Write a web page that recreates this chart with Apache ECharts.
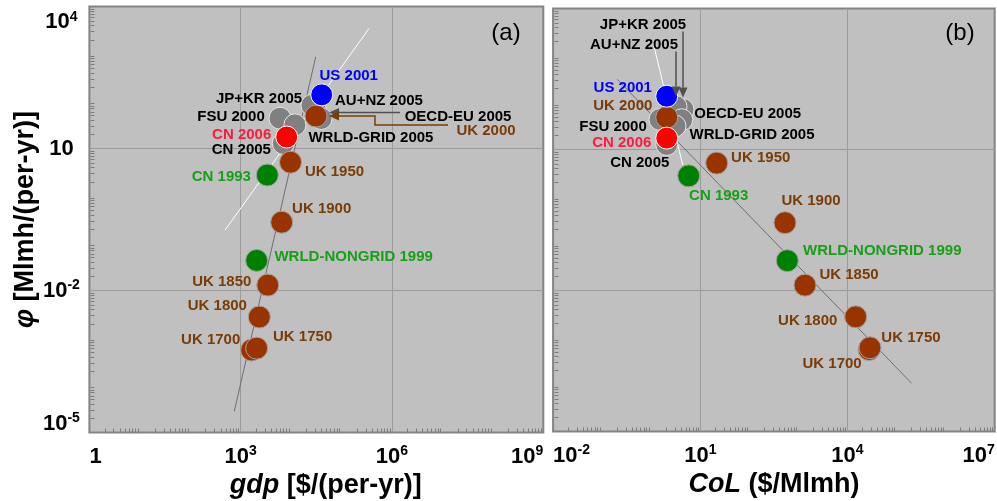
<!DOCTYPE html>
<html>
<head>
<meta charset="utf-8">
<script src="https://cdn.jsdelivr.net/npm/echarts@6/dist/echarts.min.js"></script>
<style>
  html, body { margin: 0; padding: 0; background: #ffffff; }
  #chart { width: 997px; height: 501px; }
</style>
</head>
<body>
<div id="chart"></div>
<script>
// ---- Observations: region/year, per-capita GDP, per-capita light use, cost of light ----
const names = ['CN 2005', 'JP+KR 2005', 'AU+NZ 2005', 'OECD-EU 2005', 'FSU 2000', 'WRLD-GRID 2005',
  'UK 1700', 'UK 1750', 'UK 1800', 'UK 1850', 'UK 1900', 'UK 1950', 'UK 2000',
  'WRLD-NONGRID 1999', 'CN 1993', 'CN 2006', 'US 2001'];
const groups = ['grid', 'grid', 'grid', 'grid', 'grid', 'grid',
  'uk', 'uk', 'uk', 'uk', 'uk', 'uk', 'uk',
  'green', 'green', 'red', 'blue'];
// gdp [$/(per-yr)]
const gdp = [7000, 29800, 25900, 39200, 6010, 11900,
  1650, 2070, 2340, 3440, 6500, 9730, 31100,
  2070, 3370, 8170, 40400];
// phi [Mlmh/(per-yr)]
const phi = [12.8, 70.8, 81.8, 43, 43.6, 31.6,
  5.53e-4, 6.05e-4, 2.75e-3, 0.013, 0.277, 5.13, 48.4,
  0.0432, 2.75, 17.5, 136];
// CoL [$/Mlmh]
const col = [2.07, 4.44, 3.2, 4.18, 1.51, 3.05,
  27500, 28700, 14700, 1360, 532, 21.6, 2.07,
  593, 5.8, 2.07, 2.07];

// ---- Guide lines ----
const whiteLineGdp = [489, 350000];
const whiteLinePhi = [0.188, 3430];
const grayLineGdp = [746, 30700];
const grayLinePhi = [2.81e-5, 861];
const grayLineCol = [0.203, 203000];
const grayLineColPhi = [312, 1.06e-4];
const whiteLineCol = [1.10, 4.38];
const whiteLineColPhi = [1820, 4.68];

// ---- Axis tick labels ----
const gdpTicks = [1, 1e3, 1e6, 1e9];
const colTicks = [1e-2, 1e1, 1e4, 1e7];
const phiTicks = [1e-5, 1e-2, 1e1, 1e4];

// ---- Layout: label offsets (px from marker centre) ----
const labelOffsetA = {
  'US 2001': [27, -19], 'JP+KR 2005': [-56, -9], 'AU+NZ 2005': [67, -4],
  'OECD-EU 2005': [137, -2], 'UK 2000': [170, 15], 'FSU 2000': [-49, -1],
  'WRLD-GRID 2005': [76, 13], 'CN 2006': [-45, -2], 'CN 2005': [-42, 6],
  'UK 1950': [44, 10], 'CN 1993': [-46, 2], 'UK 1900': [40, -13],
  'WRLD-NONGRID 1999': [97, -4], 'UK 1850': [-46, -3], 'UK 1800': [-42, -11],
  'UK 1750': [46, -11], 'UK 1700': [-41, -10]
};
const labelOffsetB = {
  'US 2001': [-44, -8], 'UK 2000': [-44, -11], 'CN 2006': [-45, 5],
  'FSU 2000': [-47, 7], 'CN 2005': [-27, 18], 'JP+KR 2005': [-40, -85],
  'AU+NZ 2005': [-42, -62], 'OECD-EU 2005': [66, -6], 'WRLD-GRID 2005': [77, 9],
  'UK 1950': [44, -5], 'CN 1993': [30, 20], 'UK 1900': [26, -22],
  'WRLD-NONGRID 1999': [95, -10], 'UK 1850': [44, -10], 'UK 1800': [-48, 4],
  'UK 1750': [41, -10], 'UK 1700': [-37, 14]
};
// Leader arrows: path in px relative to the target marker, last point is the tip
const arrowsA = [
  { target: 'OECD-EU 2005', color: '#505050', path: [[79, -6], [8, -6]] },
  { target: 'UK 2000', color: '#7a3c06', path: [[132, 9], [59, 9], [59, 0], [13, 0]] }
];
const arrowsB = [
  { target: 'JP+KR 2005', color: '#505050', path: [[0, -78], [0, -12]] },
  { target: 'AU+NZ 2005', color: '#505050', path: [[0, -55], [0, -10]] }
];

const FONT = '"Liberation Sans", Arial, Helvetica, sans-serif';
const GROUP_STYLE = {
  grid:  { fill: '#808080', border: '#e6e6e6', text: '#000000' },
  uk:    { fill: '#993300', border: '#a3a3a3', text: '#7a3c06' },
  green: { fill: '#008000', border: '#a3a3a3', text: '#17a017' },
  red:   { fill: '#ff0000', border: '#ffffff', text: '#ff1a3c' },
  blue:  { fill: '#0000ff', border: '#ffffff', text: '#0000ff' }
};
const GROUP_ORDER = ['grid', 'uk', 'green', 'red', 'blue'];

function powerLabel(v, plainTen) {
  const e = Math.round(Math.log10(v));
  if (e === 0) return '{b|1}';
  if (e === 1 && plainTen) return '{b|10}';
  return '{b|10}{s|' + e + '}';
}
// phi labels: the end labels are pulled inside the axis span
function phiLabel(v) {
  const e = Math.round(Math.log10(v));
  const core = powerLabel(v, true);
  if (e === -5) return core + '\n{gapLo| }';
  if (e === 4) return '{gapHi| }\n' + core;
  return core;
}
const tickRich = {
  b: { fontSize: 22, fontWeight: 'bold', fontFamily: FONT, color: '#000', lineHeight: 24 },
  s: { fontSize: 14, fontWeight: 'bold', fontFamily: FONT, color: '#000', lineHeight: 14, verticalAlign: 'top' },
  gapLo: { fontSize: 1, lineHeight: 18 },
  gapHi: { fontSize: 1, lineHeight: 31 }
};
const titleStyle = (pad) => ({
  fontSize: 27, fontWeight: 'bold', fontFamily: FONT, color: '#000', padding: pad,
  rich: { i: { fontSize: 27, fontWeight: 'bold', fontStyle: 'italic', fontFamily: FONT, color: '#000' } }
});
const splitStyle = { show: true, lineStyle: { color: '#9b9b9b', width: 1 } };

function pointSeries(idx, xs, offsets) {
  return GROUP_ORDER.map(g => ({
    type: 'scatter', xAxisIndex: idx, yAxisIndex: idx, z: 5,
    symbol: 'circle', symbolSize: 22, silent: true,
    itemStyle: { color: GROUP_STYLE[g].fill, borderColor: GROUP_STYLE[g].border, borderWidth: 1, opacity: 1 },
    label: {
      show: true, position: 'inside', formatter: p => p.name,
      color: GROUP_STYLE[g].text, fontFamily: FONT, fontWeight: 'bold', fontSize: 15
    },
    emphasis: { disabled: true },
    data: names.map((n, i) => i).filter(i => groups[i] === g).map(i => ({
      name: names[i], value: [xs[i], phi[i]], label: { offset: offsets[names[i]] }
    }))
  }));
}

function guideLine(idx, xs, ys, color, z) {
  return {
    type: 'line', xAxisIndex: idx, yAxisIndex: idx, z: z, silent: true,
    symbol: 'none', lineStyle: { color: color, width: 1 },
    data: xs.map((x, i) => [x, ys[i]])
  };
}

// minor log ticks (2..9 of every decade), drawn inward from the axis
function minorValues(lo, hi) {
  const out = [];
  for (let k = lo; k < hi; k++) for (let m = 2; m <= 9; m++) out.push(m * Math.pow(10, k));
  return out;
}
function minorTicks(idx, dir, values, fixed) {
  return {
    type: 'custom', xAxisIndex: idx, yAxisIndex: idx, z: 3, silent: true, clip: false,
    data: values.map(v => dir === 'x' ? [v, fixed] : [fixed, v]),
    renderItem: (params, api) => {
      const p = api.coord([api.value(0), api.value(1)]);
      const x = Math.round(p[0]) + 0.5, y = Math.round(p[1]) + 0.5;
      const shape = dir === 'x' ? { x1: x, y1: y - 1, x2: x, y2: y - 5 } : { x1: x + 1, y1: y, x2: x + 5, y2: y };
      return { type: 'line', shape: shape, style: { stroke: '#7c7c7c', lineWidth: 1 } };
    }
  };
}

function arrowSeries(idx, xs, list) {
  return {
    type: 'custom', xAxisIndex: idx, yAxisIndex: idx, z: 8, silent: true, clip: false,
    data: list.map(a => { const i = names.indexOf(a.target); return [xs[i], phi[i]]; }),
    renderItem: (params, api) => {
      const a = list[params.dataIndex];
      const c = api.coord([api.value(0), api.value(1)]);
      const pts = a.path.map(o => [c[0] + o[0], c[1] + o[1]]);
      const n = pts.length, tip = pts[n - 1], prev = pts[n - 2];
      const dx = tip[0] - prev[0], dy = tip[1] - prev[1], L = Math.hypot(dx, dy);
      const ux = dx / L, uy = dy / L, hl = 10, hw = 4.5;
      const base = [tip[0] - ux * hl, tip[1] - uy * hl];
      const head = [tip, [base[0] - uy * hw, base[1] + ux * hw], [base[0] + uy * hw, base[1] - ux * hw]];
      return {
        type: 'group', children: [
          { type: 'polyline', shape: { points: pts.slice(0, n - 1).concat([base]) }, style: { stroke: a.color, lineWidth: 1.5, fill: null } },
          { type: 'polygon', shape: { points: head }, style: { fill: a.color } }
        ]
      };
    }
  };
}

const gridBox = {
  show: true, backgroundColor: '#c0c0c0', borderColor: '#838383', borderWidth: 2,
  containLabel: false, outerBoundsMode: 'none'
};

const option = {
  animation: false,
  backgroundColor: '#ffffff',
  grid: [
    Object.assign({ left: 89.4, top: 6.5, width: 453.9, height: 426 }, gridBox),
    Object.assign({ left: 553.1, top: 8.5, width: 441.6, height: 423 }, gridBox)
  ],
  xAxis: [
    {
      type: 'log', logBase: 10, gridIndex: 0, min: 1, max: 1e9,
      axisLine: { show: false },
      axisTick: { show: false, customValues: gdpTicks.slice(1, -1) },
      minorTick: { show: false },
      splitLine: splitStyle,
      axisLabel: {
        customValues: gdpTicks, formatter: v => powerLabel(v, true), rich: tickRich,
        margin: 12, alignMinLabel: 'left', alignMaxLabel: 'right'
      },
      name: '{i|gdp} [$/(per-yr)]', nameLocation: 'middle', nameGap: 36,
      nameTextStyle: titleStyle([0, 0, 0, 19])
    },
    {
      type: 'log', logBase: 10, gridIndex: 1, min: 1e-2, max: 1e7,
      axisLine: { show: false },
      axisTick: { show: false, customValues: colTicks.slice(1, -1) },
      minorTick: { show: false },
      splitLine: splitStyle,
      axisLabel: {
        customValues: colTicks, formatter: v => powerLabel(v, false), rich: tickRich,
        margin: 12, alignMinLabel: 'left', alignMaxLabel: 'right'
      },
      name: '{i|CoL} ($/Mlmh)', nameLocation: 'middle', nameGap: 36,
      nameTextStyle: titleStyle([0, 0, 0, 0])
    }
  ],
  yAxis: [
    {
      type: 'log', logBase: 10, gridIndex: 0, min: 1e-5, max: 1e4,
      axisLine: { show: false },
      axisTick: { show: false, customValues: phiTicks.slice(1, -1) },
      minorTick: { show: false },
      splitLine: splitStyle,
      axisLabel: {
        customValues: phiTicks, formatter: phiLabel, rich: tickRich,
        align: 'center', verticalAlign: 'middle', margin: 28
      },
      name: '{i|φ} [Mlmh/(per-yr)]', nameLocation: 'middle', nameRotate: 90, nameGap: 47,
      nameTextStyle: titleStyle([0, 0, 0, 0])
    },
    {
      type: 'log', logBase: 10, gridIndex: 1, min: 1e-5, max: 1e4,
      axisLine: { show: false },
      axisTick: { show: false, customValues: phiTicks.slice(1, -1) },
      minorTick: { show: false },
      splitLine: splitStyle,
      axisLabel: { show: false }
    }
  ],
  graphic: [
    { type: 'text', x: 506, y: 33, style: { text: '(a)', font: '24px ' + FONT, fill: '#000', align: 'center', verticalAlign: 'middle' } },
    { type: 'text', x: 960, y: 33, style: { text: '(b)', font: '24px ' + FONT, fill: '#000', align: 'center', verticalAlign: 'middle' } }
  ],
  series: [
    minorTicks(0, 'x', minorValues(0, 9), 1e-5),
    minorTicks(0, 'y', minorValues(-5, 4), 1),
    minorTicks(1, 'x', minorValues(-2, 7), 1e-5),
    minorTicks(1, 'y', minorValues(-5, 4), 1e-2),
    guideLine(0, whiteLineGdp, whiteLinePhi, '#ffffff', 4),
    guideLine(0, grayLineGdp, grayLinePhi, '#6e6e6e', 4),
    guideLine(1, grayLineCol, grayLineColPhi, '#6e6e6e', 4),
    guideLine(1, whiteLineCol, whiteLineColPhi, '#ffffff', 4),
    ...pointSeries(0, gdp, labelOffsetA),
    ...pointSeries(1, col, labelOffsetB),
    arrowSeries(0, gdp, arrowsA),
    arrowSeries(1, col, arrowsB)
  ]
};

const chart = echarts.init(document.getElementById('chart'), null, { renderer: 'canvas' });
chart.setOption(option);
</script>
</body>
</html>
